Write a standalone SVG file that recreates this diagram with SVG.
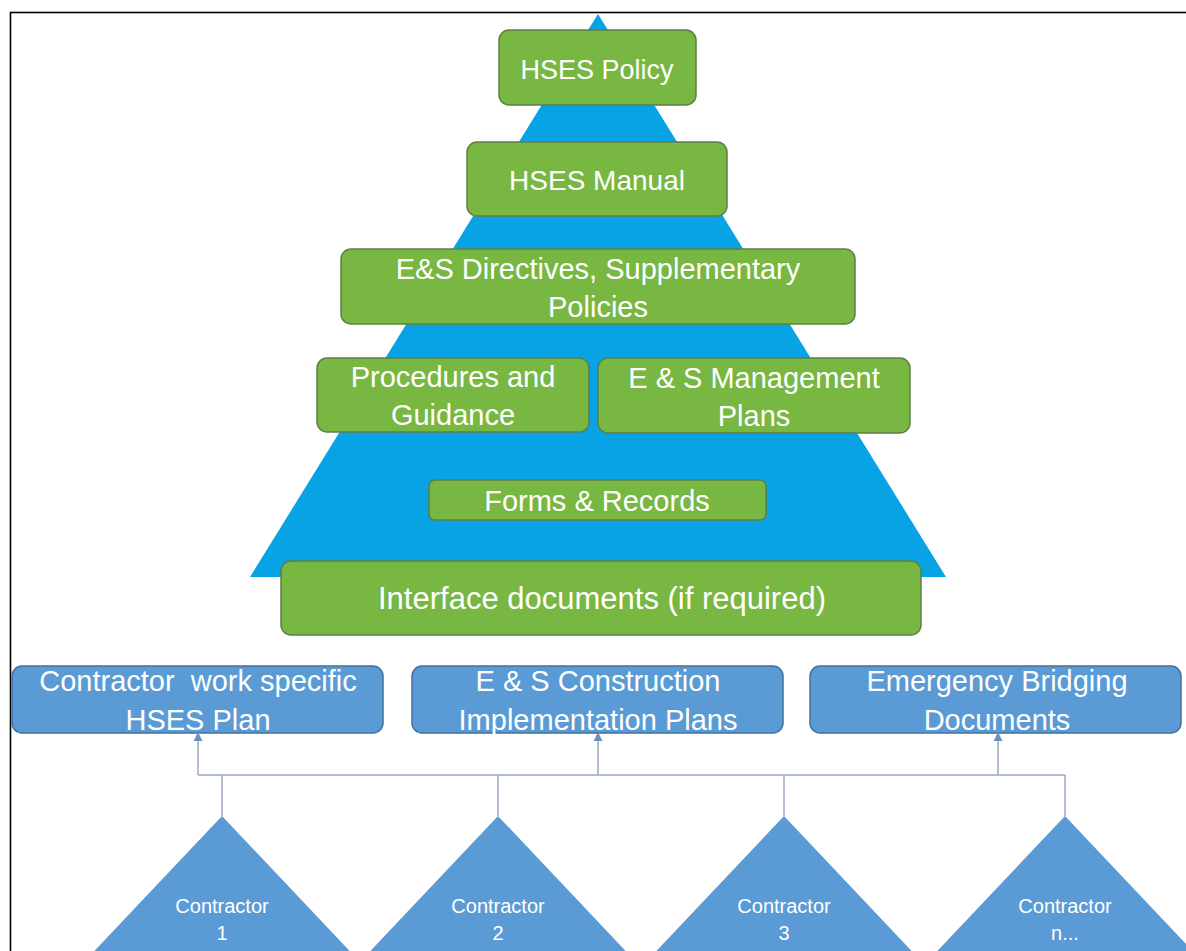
<svg xmlns="http://www.w3.org/2000/svg" width="1186" height="951" viewBox="0 0 1186 951">
<style>
.g{fill:#79b743;stroke:#5d7f48;stroke-width:1.5}
.b{fill:#5b9bd5;stroke:#41719c;stroke-width:1.5}
.t{font-family:"Liberation Sans",Arial,sans-serif;fill:#fff;text-anchor:middle}
.l{font-size:29px}
.s{font-size:20px}
.c{fill:none;stroke:#9aa7c4;stroke-width:1.5}
</style>
<defs>
<marker id="ah" markerWidth="9" markerHeight="9" refX="7" refY="4.5" orient="auto" markerUnits="userSpaceOnUse">
<path d="M0,0 L9,4.5 L0,9 Z" fill="#6f8fc0"/>
</marker>
</defs>
<rect x="0" y="0" width="1186" height="951" fill="#fff"/>
<rect x="10.5" y="12.5" width="1200" height="1000" fill="none" stroke="#000" stroke-width="1.6"/>
<polygon id="pyramid" points="598,14 946,577 250,577" fill="#08a3e4"/>
<g id="policy"><rect class="g" x="499" y="30" width="197" height="75" rx="10"/><text class="t" style="font-size:27px" x="597" y="79">HSES Policy</text></g>
<g id="manual"><rect class="g" x="467" y="142" width="260" height="74" rx="10"/><text class="t" style="font-size:28px" x="597" y="190">HSES Manual</text></g>
<g id="directives"><rect class="g" x="341" y="249" width="514" height="75" rx="10"/><text class="t l" x="598" y="279">E&amp;S Directives, Supplementary</text><text class="t l" x="598" y="317">Policies</text></g>
<g id="procedures"><rect class="g" x="317" y="358" width="272" height="74" rx="10"/><text class="t l" x="453" y="387">Procedures and</text><text class="t l" x="453" y="425">Guidance</text></g>
<g id="mgmtplans"><rect class="g" x="598" y="358" width="312" height="75" rx="10"/><text class="t l" x="754" y="388">E &amp; S Management</text><text class="t l" x="754" y="426">Plans</text></g>
<g id="forms"><rect class="g" x="429" y="480" width="337" height="40" rx="6"/><text class="t l" x="597" y="511">Forms &amp; Records</text></g>
<g id="interface"><rect class="g" x="281" y="561" width="640" height="74" rx="10"/><text class="t" style="font-size:31px" x="602" y="609">Interface documents (if required)</text></g>
<g id="hsesplan"><rect class="b" x="12" y="666" width="371" height="67" rx="10"/><text class="t l" x="198" y="691" xml:space="preserve">Contractor  work specific</text><text class="t l" x="198" y="730">HSES Plan</text></g>
<g id="constructionplans"><rect class="b" x="412" y="666" width="371" height="67" rx="10"/><text class="t l" x="598" y="691">E &amp; S Construction</text><text class="t l" x="598" y="730">Implementation Plans</text></g>
<g id="bridging"><rect class="b" x="810" y="666" width="371" height="67" rx="10"/><text class="t l" x="997" y="691">Emergency Bridging</text><text class="t l" x="997" y="730">Documents</text></g>
<g id="connectors">
<path class="c" d="M198,775 H1065"/>
<path class="c" d="M198,775 V734" marker-end="url(#ah)"/>
<path class="c" d="M598,775 V734" marker-end="url(#ah)"/>
<path class="c" d="M998,775 V734" marker-end="url(#ah)"/>
<path class="c" d="M222,775 V816"/>
<path class="c" d="M498,775 V816"/>
<path class="c" d="M784,775 V816"/>
<path class="c" d="M1065,775 V816"/>
</g>
<g id="contractor1"><polygon fill="#5b9bd5" points="222,816 396,1000 48,1000"/><text class="t s" x="222" y="913">Contractor</text><text class="t s" x="222" y="940">1</text></g>
<g id="contractor2"><polygon fill="#5b9bd5" points="498,816 672,1000 324,1000"/><text class="t s" x="498" y="913">Contractor</text><text class="t s" x="498" y="940">2</text></g>
<g id="contractor3"><polygon fill="#5b9bd5" points="784,816 958,1000 610,1000"/><text class="t s" x="784" y="913">Contractor</text><text class="t s" x="784" y="940">3</text></g>
<g id="contractorn"><polygon fill="#5b9bd5" points="1065,816 1239,1000 891,1000"/><text class="t s" x="1065" y="913">Contractor</text><text class="t s" x="1065" y="940">n...</text></g>
</svg>
